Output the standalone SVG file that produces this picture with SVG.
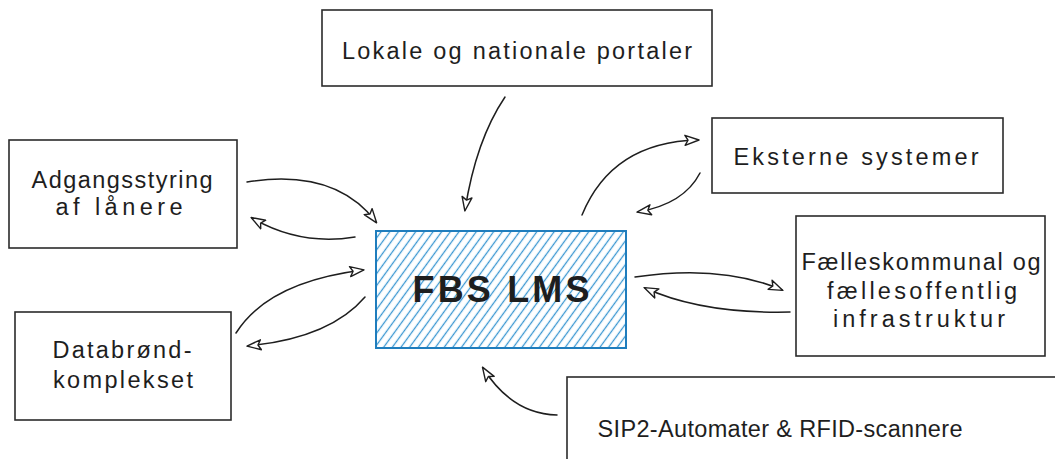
<svg xmlns="http://www.w3.org/2000/svg" width="1055" height="459" viewBox="0 0 1055 459">
  <style>
    .box { fill: #ffffff; stroke: #2b2b2b; stroke-width: 1.6; }
    .lbl { font-family: "Liberation Sans", Arial, sans-serif; font-size: 23.5px; fill: #1e1e1e; text-anchor: middle; }
    .main { font-family: "Liberation Sans", Arial, sans-serif; font-size: 36px; font-weight: bold; fill: #1e1e1e; text-anchor: middle; }
    .conn { fill: none; stroke: #1e1e1e; stroke-width: 1.5; stroke-linecap: round; marker-end: url(#arr); }
  </style>
  <defs>
    <pattern id="hatch" patternUnits="userSpaceOnUse" width="7" height="7" patternTransform="rotate(36)">
      <line x1="3.5" y1="0" x2="3.5" y2="7" stroke="#3b97d1" stroke-width="1.3"/>
    </pattern>
    <marker id="arr" viewBox="0 0 16 12" refX="14" refY="6" markerWidth="16" markerHeight="12" markerUnits="userSpaceOnUse" orient="auto">
      <path d="M1,1 L15,6 L1,11 L4,6 Z" fill="#ffffff" stroke="#1e1e1e" stroke-width="1.4" stroke-linejoin="round"/>
    </marker>
  </defs>

  <rect width="1055" height="459" fill="#ffffff"/>

  <g id="connectors">
    <path class="conn" d="M247,182 Q335,168 376,222"/>
    <path class="conn" d="M355,237 Q300,246 252,218"/>
    <path class="conn" d="M236,333 Q268,282 363,270"/>
    <path class="conn" d="M365,297 Q330,338 248,346"/>
    <path class="conn" d="M505,97 Q476,140 465,210"/>
    <path class="conn" d="M582,215 Q612,142 698,140"/>
    <path class="conn" d="M700,173 Q684,204 638,212"/>
    <path class="conn" d="M635,277 Q722,264 782,290"/>
    <path class="conn" d="M790,312 Q702,314 645,288"/>
    <path class="conn" d="M557,415 Q512,414 483,368"/>
  </g>

  <g id="node-portaler">
    <rect class="box" x="322" y="10" width="390" height="76"/>
    <text class="lbl" x="517" y="59" textLength="350">Lokale og nationale portaler</text>
  </g>

  <g id="node-adgang">
    <rect class="box" x="9" y="140" width="228" height="108"/>
    <text class="lbl" x="122" y="188" textLength="181">Adgangsstyring</text>
    <text class="lbl" x="119" y="215" textLength="127">af lånere</text>
  </g>

  <g id="node-databrond">
    <rect class="box" x="15" y="312" width="216" height="108"/>
    <text class="lbl" x="122" y="358" textLength="139">Databrønd-</text>
    <text class="lbl" x="123" y="388" textLength="140">komplekset</text>
  </g>

  <g id="node-fbs">
    <rect x="376" y="231" width="250" height="117" fill="url(#hatch)" stroke="#1f7dbd" stroke-width="2"/>
    <text class="main" x="501" y="302" textLength="177">FBS LMS</text>
  </g>

  <g id="node-eksterne">
    <rect class="box" x="712" y="118" width="291" height="75"/>
    <text class="lbl" x="856" y="165" textLength="245">Eksterne systemer</text>
  </g>

  <g id="node-faelles">
    <rect class="box" x="796" y="216" width="249" height="140"/>
    <text class="lbl" x="921" y="270" textLength="239">Fælleskommunal og</text>
    <text class="lbl" x="922" y="299" textLength="190">fællesoffentlig</text>
    <text class="lbl" x="919" y="327" textLength="172">infrastruktur</text>
  </g>

  <g id="node-sip2">
    <rect class="box" x="567" y="377" width="500" height="100"/>
    <text class="lbl" x="780" y="437" textLength="365">SIP2-Automater &amp; RFID-scannere</text>
  </g>
</svg>
